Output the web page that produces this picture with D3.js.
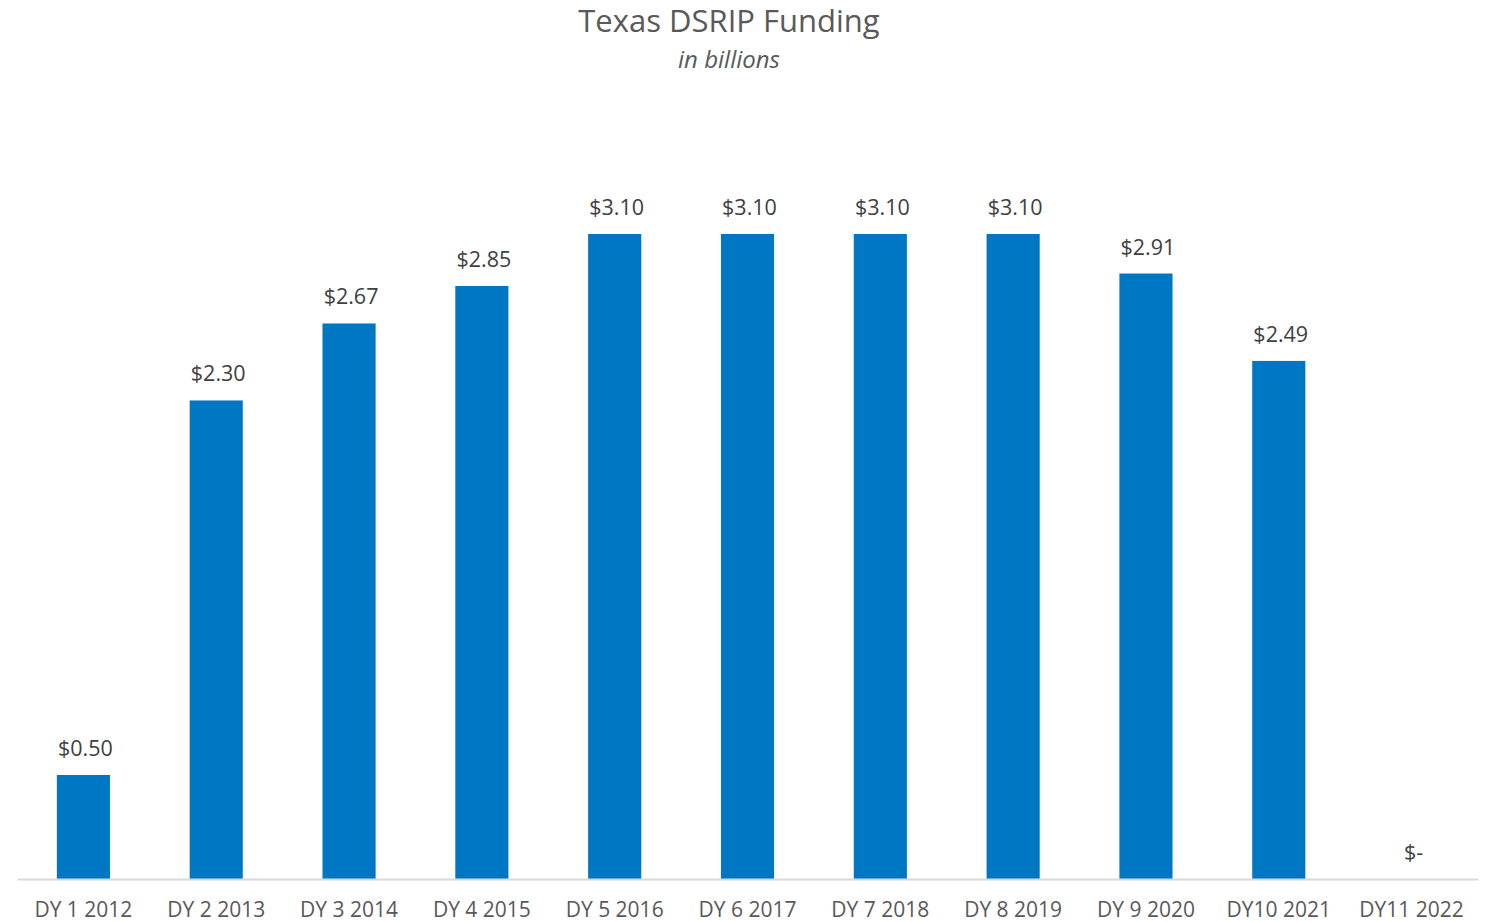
<!DOCTYPE html>
<html>
<head>
<meta charset="utf-8">
<script src="https://cdn.jsdelivr.net/npm/d3@7"></script>
<style>
  body { margin: 0; background: #fff; }
  svg { font-family: "Open Sans", "Noto Sans", sans-serif; }
</style>
</head>
<body>
<svg width="1485" height="922"></svg>
<script>
const categories = ["DY 1 2012", "DY 2 2013", "DY 3 2014", "DY 4 2015", "DY 5 2016", "DY 6 2017",
    "DY 7 2018", "DY 8 2019", "DY 9 2020", "DY10 2021", "DY11 2022"];
const funding = [0.50, 2.30, 2.67, 2.85, 3.10, 3.10, 3.10, 3.10, 2.91, 2.49, 0];

const svg = d3.select("svg");
const margin = { left: 17, right: 7, baseline: 879 };
const width = 1485;

// scales
const xScale = d3.scaleBand()
    .domain(categories)
    .range([margin.left, width - margin.right])
    .paddingInner(0.6)
    .paddingOuter(0.3);

const yScale = d3.scaleLinear()
    .domain([0, 3.10])
    .range([margin.baseline, 234]);

// title
svg.append("text")
    .attr("x", 729).attr("y", 32)
    .attr("text-anchor", "middle")
    .attr("font-size", 31)
    .attr("fill", "#595959")
    .text("Texas DSRIP Funding");

svg.append("text")
    .attr("x", 729).attr("y", 68)
    .attr("text-anchor", "middle")
    .attr("font-size", 24)
    .attr("font-style", "italic")
    .attr("fill", "#595959")
    .text("in billions");

// bars
svg.selectAll(".bar")
    .data(funding)
    .enter().append("rect")
    .attr("class", "bar")
    .attr("x", (d, i) => xScale(categories[i]))
    .attr("width", xScale.bandwidth())
    .attr("y", d => yScale(d))
    .attr("height", d => yScale(0) - yScale(d))
    .attr("fill", "#0077c2");

// value labels
svg.selectAll(".val")
    .data(funding)
    .enter().append("text")
    .attr("class", "val")
    .attr("x", (d, i) => xScale(categories[i]) + xScale.bandwidth() / 2 + 2)
    .attr("y", d => yScale(d) - 19)
    .attr("text-anchor", "middle")
    .attr("font-size", 21.5)
    .attr("fill", "#404040")
    .text(d => d === 0 ? "$-" : "$" + d3.format(".2f")(d));

// x axis
const xAxis = d3.axisBottom(xScale).tickSize(0).tickPadding(0);
const gX = svg.append("g")
    .attr("transform", `translate(0, ${margin.baseline})`)
    .call(xAxis);
gX.select(".domain").attr("stroke", "#d9d9d9").attr("stroke-width", 2);
gX.selectAll("text")
    .attr("y", 38)
    .attr("dy", null)
    .attr("font-size", 21)
    .attr("font-family", "\"Open Sans\", \"Noto Sans\", sans-serif")
    .attr("fill", "#595959");
</script>
</body>
</html>
